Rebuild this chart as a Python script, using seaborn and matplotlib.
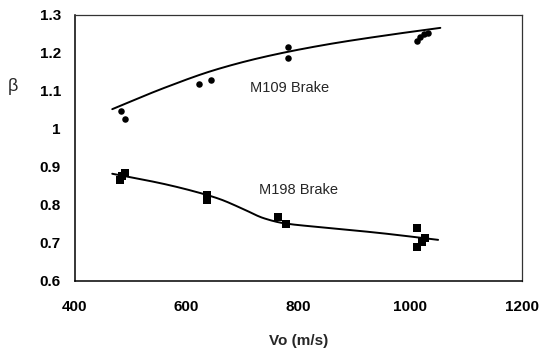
import numpy as np
import pandas as pd
import matplotlib
matplotlib.use("Agg")
import matplotlib.pyplot as plt
import seaborn as sns

# M109 Brake data (circles)
m109_vo = [482, 489, 623, 643, 782, 782, 1012, 1018, 1025, 1032]
m109_beta = [1.046, 1.026, 1.118, 1.129, 1.216, 1.187, 1.232, 1.243, 1.250, 1.252]

# M198 Brake data (squares)
m198_vo = [480, 485, 490, 636, 636, 764, 777, 1012, 1012, 1021, 1027]
m198_beta = [0.866, 0.876, 0.884, 0.826, 0.814, 0.768, 0.750, 0.739, 0.690, 0.703, 0.712]

# Trend curves (knots)
m109_curve_vo = [467, 560, 650, 740, 850, 960, 1054]
m109_curve_beta = [1.052, 1.108, 1.155, 1.190, 1.222, 1.247, 1.266]
m198_curve_vo = [467, 560, 625, 660, 700, 738, 773, 850, 946, 1050]
m198_curve_beta = [0.882, 0.855, 0.831, 0.815, 0.790, 0.765, 0.752, 0.740, 0.726, 0.708]

x_ticks = [400, 600, 800, 1000, 1200]
y_ticks = [0.6, 0.7, 0.8, 0.9, 1.0, 1.1, 1.2, 1.3]
y_ticklabels = ["0.6", "0.7", "0.8", "0.9", "1", "1.1", "1.2", "1.3"]


def pchip(xk, yk, xs):
    xk = np.asarray(xk, float)
    yk = np.asarray(yk, float)
    h = np.diff(xk)
    d = np.diff(yk) / h
    n = len(xk)
    m = np.zeros(n)
    for i in range(1, n - 1):
        if d[i - 1] * d[i] > 0:
            w1 = 2 * h[i] + h[i - 1]
            w2 = h[i] + 2 * h[i - 1]
            m[i] = (w1 + w2) / (w1 / d[i - 1] + w2 / d[i])
    m[0] = d[0]
    m[-1] = d[-1]
    idx = np.clip(np.searchsorted(xk, xs) - 1, 0, n - 2)
    t = (xs - xk[idx]) / h[idx]
    h00 = 2 * t**3 - 3 * t**2 + 1
    h10 = t**3 - 2 * t**2 + t
    h01 = -2 * t**3 + 3 * t**2
    h11 = t**3 - t**2
    return (h00 * yk[idx] + h10 * h[idx] * m[idx]
            + h01 * yk[idx + 1] + h11 * h[idx] * m[idx + 1])


sns.set_style("white")
plt.rcParams["font.family"] = ["Liberation Sans", "DejaVu Sans"]

fig = plt.figure(figsize=(5.42, 3.56), dpi=100)
ax = fig.add_axes([0.138, 0.211, 0.825, 0.747])

df109 = pd.DataFrame({"Vo": m109_vo, "beta": m109_beta})
df198 = pd.DataFrame({"Vo": m198_vo, "beta": m198_beta})

xs1 = np.linspace(m109_curve_vo[0], m109_curve_vo[-1], 300)
xs2 = np.linspace(m198_curve_vo[0], m198_curve_vo[-1], 300)
trend109 = pd.DataFrame({"Vo": xs1, "beta": pchip(m109_curve_vo, m109_curve_beta, xs1)})
trend198 = pd.DataFrame({"Vo": xs2, "beta": pchip(m198_curve_vo, m198_curve_beta, xs2)})

sns.lineplot(data=trend109, x="Vo", y="beta", color="black", lw=1.4, ax=ax)
sns.lineplot(data=trend198, x="Vo", y="beta", color="black", lw=1.4, ax=ax)
sns.scatterplot(data=df109, x="Vo", y="beta", marker="o", s=22, color="black",
                edgecolor="black", linewidth=0, ax=ax, zorder=3)
sns.scatterplot(data=df198, x="Vo", y="beta", marker="s", s=28, color="black",
                edgecolor="black", linewidth=0, ax=ax, zorder=3)

ax.set_xlim(400, 1200)
ax.set_ylim(0.6, 1.3)
ax.set_xticks(x_ticks)
ax.set_xticklabels([str(t) for t in x_ticks], fontweight="bold", fontsize=11)
ax.set_yticks(y_ticks)
ax.set_yticklabels(y_ticklabels, fontweight="bold", fontsize=11)
ax.tick_params(direction="inout", length=8, width=0.8, colors="black", pad=6)
ax.tick_params(axis="x", pad=10)

ax.set_xlabel("Vo (m/s)", fontweight="bold", fontsize=11, labelpad=14)
ax.set_ylabel("β", fontsize=13, rotation=0)
ax.yaxis.set_label_coords(-0.139, 0.70)

for side in ["left", "bottom"]:
    ax.spines[side].set_color("black")
    ax.spines[side].set_linewidth(1.1)
for side in ["top", "right"]:
    ax.spines[side].set_visible(True)
    ax.spines[side].set_color("#333333")
    ax.spines[side].set_linewidth(0.9)

ax.text(785, 1.108, "M109 Brake", fontsize=10.5, ha="center", va="center")
ax.text(800, 0.839, "M198 Brake", fontsize=10.5, ha="center", va="center")

fig.savefig("out.png", dpi=100, facecolor="white")
